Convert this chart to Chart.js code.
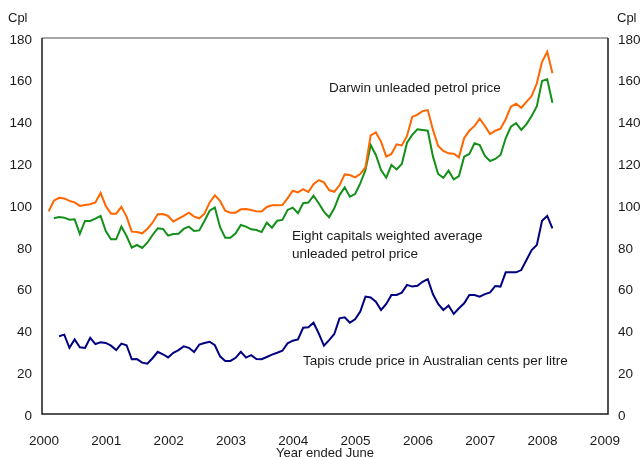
<!DOCTYPE html>
<html>
<head>
<meta charset="utf-8">
<script src="https://cdn.jsdelivr.net/npm/chart.js@4/dist/chart.umd.min.js"></script>
<style>
  html, body { margin: 0; padding: 0; background: #fff; }
  #wrap { width: 643px; height: 457px; }
</style>
</head>
<body>
<div id="wrap"><canvas id="chart" width="643" height="457"></canvas></div>
<script>
// monthly series, first Darwin observation near the start of 2000
const firstMonth = 2000.075;
const yearTicks = [2000, 2001, 2002, 2003, 2004, 2005, 2006, 2007, 2008, 2009];
const valueTicks = [0, 20, 40, 60, 80, 100, 120, 140, 160, 180];

// Darwin unleaded petrol price (cpl), starts at month 0
const darwin = [
  97.0, 102.1, 103.5, 103.2, 102.0, 101.3, 99.6, 100.0, 100.4, 101.3,
  105.9, 99.6, 95.9, 95.9, 99.2, 94.5, 87.3, 87.1, 86.5, 88.6,
  91.6, 95.6, 95.7, 94.8, 92.1, 93.5, 94.9, 96.4, 94.5, 93.7,
  95.9, 101.3, 104.7, 102.0, 97.3, 96.4, 96.4, 98.0, 98.1, 97.7,
  97.0, 96.9, 99.1, 99.9, 99.9, 100.0, 103.2, 106.9, 106.1, 107.6,
  106.3, 110.0, 112.0, 110.9, 107.2, 106.4, 109.5, 114.7, 114.4, 113.3,
  114.9, 118.1, 133.4, 134.8, 130.4, 123.2, 124.5, 129.1, 128.6, 133.1,
  142.2, 143.3, 145.0, 145.5, 136.0, 128.3, 125.9, 124.8, 124.6, 122.9,
  132.0, 135.6, 137.9, 141.4, 137.9, 134.0, 135.6, 136.6, 141.1, 147.1,
  148.5, 146.6, 149.4, 152.2, 158.3, 168.6, 173.4, 163.1
];

// Eight capitals weighted average (cpl), starts at month 1
const capitals = [
  93.7, 94.3, 94.0, 93.0, 93.2, 86.2, 92.4, 92.4, 93.5, 94.8,
  87.6, 83.6, 83.6, 89.7, 85.2, 79.6, 80.9, 79.5, 82.0, 85.7,
  88.9, 88.6, 85.4, 86.2, 86.3, 88.6, 89.7, 87.6, 87.9, 92.4,
  97.3, 98.8, 89.4, 84.4, 84.4, 86.5, 90.5, 89.7, 88.4, 88.1,
  87.1, 91.6, 89.2, 92.5, 92.9, 97.7, 98.8, 96.1, 100.9, 101.2,
  104.5, 100.9, 96.9, 94.2, 98.5, 104.8, 108.5, 104.0, 105.3, 110.4,
  116.8, 128.8, 124.0, 116.8, 113.1, 119.2, 117.1, 119.7, 129.9, 133.6,
  136.3, 136.0, 135.6, 123.2, 114.9, 113.1, 116.5, 112.3, 113.9, 123.2,
  124.5, 129.6, 128.8, 123.5, 121.1, 122.1, 124.0, 132.0, 137.5, 139.2,
  136.0, 138.8, 142.7, 147.4, 159.4, 160.2, 149.0
];

// Tapis crude in Australian cents per litre, starts at month 2
const tapis = [
  37.2, 38.0, 31.7, 35.7, 31.9, 31.6, 36.5, 33.5, 34.3, 34.0,
  32.7, 30.6, 33.7, 32.9, 26.2, 26.3, 24.6, 24.1, 26.7, 29.8,
  28.6, 27.1, 29.3, 30.6, 32.4, 31.7, 29.7, 33.2, 34.0, 34.6,
  32.9, 27.6, 25.4, 25.4, 26.9, 29.8, 27.0, 28.2, 26.3, 26.2,
  27.3, 28.4, 29.3, 30.3, 33.8, 35.1, 35.7, 41.3, 41.5, 43.7,
  38.6, 32.7, 35.4, 38.3, 45.8, 46.3, 43.7, 45.3, 49.0, 56.2,
  55.8, 53.8, 49.8, 52.7, 57.0, 57.0, 58.1, 61.8, 61.0, 61.4,
  63.3, 64.6, 57.3, 52.7, 49.8, 51.9, 47.9, 50.6, 53.0, 57.0,
  57.0, 56.2, 57.4, 58.2, 61.3, 61.0, 67.8, 67.8, 67.8, 68.9,
  73.7, 78.5, 80.9, 92.5, 94.8, 88.9
];

function toPoints(values, offset) {
  return values.map((v, i) => ({ x: firstMonth + (i + offset) / 12, y: v }));
}

const FONT = "'Liberation Sans', Arial, sans-serif";

// plot frame, labels on the plot and the Cpl units
const decorations = {
  id: 'decorations',
  afterDraw(chart) {
    const { ctx, chartArea: a } = chart;
    ctx.save();
    ctx.lineWidth = 1.5;
    ctx.strokeStyle = '#888';
    ctx.beginPath();
    ctx.moveTo(a.left, a.top);
    ctx.lineTo(a.right, a.top);
    ctx.stroke();
    ctx.strokeStyle = '#1a1a1a';
    ctx.beginPath();
    ctx.moveTo(a.left, a.top);
    ctx.lineTo(a.left, a.bottom);
    ctx.lineTo(a.right, a.bottom);
    ctx.lineTo(a.right, a.top);
    ctx.stroke();

    ctx.fillStyle = '#1a1a1a';
    ctx.textBaseline = 'middle';
    ctx.textAlign = 'left';
    ctx.font = '13px ' + FONT;
    ctx.fillText('Cpl', 8, 18);
    ctx.fillText('Cpl', 617, 18);

    ctx.font = '13.5px ' + FONT;
    ctx.fillText('Darwin unleaded petrol price', 329, 88);
    ctx.fillText('Eight capitals weighted average', 292, 236);
    ctx.fillText('unleaded petrol price', 292, 254);
    ctx.fillText('Tapis crude price in Australian cents per litre', 303, 361);
    ctx.restore();
  }
};

const tickFont = { family: FONT, size: 13.5 };

new Chart(document.getElementById('chart'), {
  type: 'line',
  data: {
    datasets: [
      {
        label: 'Darwin unleaded petrol price',
        data: toPoints(darwin, 0),
        borderColor: '#ff6600',
        borderWidth: 2,
        pointRadius: 0,
        tension: 0,
        yAxisID: 'y'
      },
      {
        label: 'Eight capitals weighted average unleaded petrol price',
        data: toPoints(capitals, 1),
        borderColor: '#14901a',
        borderWidth: 2,
        pointRadius: 0,
        tension: 0,
        yAxisID: 'y'
      },
      {
        label: 'Tapis crude price in Australian cents per litre',
        data: toPoints(tapis, 2),
        borderColor: '#000080',
        borderWidth: 2,
        pointRadius: 0,
        tension: 0,
        yAxisID: 'y'
      }
    ]
  },
  options: {
    responsive: false,
    animation: false,
    layout: { padding: { top: 38, left: 0, right: 0, bottom: 0 } },
    plugins: {
      legend: { display: false },
      tooltip: { enabled: false }
    },
    scales: {
      x: {
        type: 'linear',
        min: 1999.968,
        max: 2009.05,
        grid: { display: false, drawTicks: false },
        border: { display: false },
        afterBuildTicks: (scale) => { scale.ticks = yearTicks.map(v => ({ value: v })); },
        afterFit: (scale) => { scale.height = 43; },
        ticks: {
          color: '#1a1a1a',
          font: tickFont,
          padding: 19,
          maxRotation: 0,
          autoSkip: false,
          callback: (v) => String(v)
        },
        title: {
          display: true,
          text: 'Year ended June',
          color: '#1a1a1a',
          font: { family: FONT, size: 13 },
          padding: { top: 0, bottom: -4 }
        }
      },
      y: {
        position: 'left',
        min: 0,
        max: 180,
        grid: { display: false, drawTicks: false },
        border: { display: false },
        afterBuildTicks: (scale) => { scale.ticks = valueTicks.map(v => ({ value: v })); },
        afterFit: (scale) => { scale.width = 42; },
        ticks: { color: '#1a1a1a', font: tickFont, padding: 10, labelOffset: 2 }
      },
      y2: {
        position: 'right',
        min: 0,
        max: 180,
        grid: { display: false, drawTicks: false },
        border: { display: false },
        afterBuildTicks: (scale) => { scale.ticks = valueTicks.map(v => ({ value: v })); },
        afterFit: (scale) => { scale.width = 35; },
        ticks: { color: '#1a1a1a', font: tickFont, padding: 10, labelOffset: 2 }
      }
    }
  },
  plugins: [decorations]
});
</script>
</body>
</html>
